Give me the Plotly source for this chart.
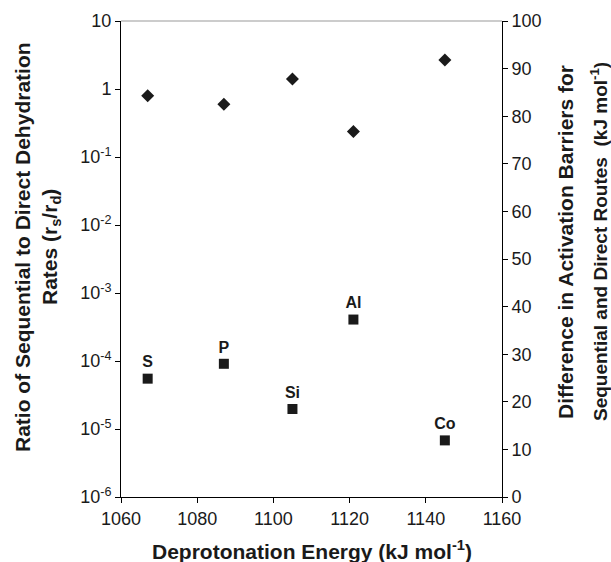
import plotly.graph_objects as go

energy = [1067, 1087, 1105, 1121, 1145]
ratio = [5.5e-5, 9.1e-5, 1.97e-5, 4.07e-4, 6.8e-6]
ratio_labels = ["S", "P", "Si", "Al", "Co"]
barrier_diff = [84.3, 82.5, 87.8, 76.8, 91.8]

left_tickvals = [1e-6, 1e-5, 1e-4, 1e-3, 1e-2, 1e-1, 1, 10]
left_ticktext = ["10<sup>-6</sup>", "10<sup>-5</sup>", "10<sup>-4</sup>", "10<sup>-3</sup>",
                 "10<sup>-2</sup>", "10<sup>-1</sup>", "1", "10"]
right_tickvals = list(range(0, 101, 10))
x_tickvals = list(range(1060, 1161, 20))

FONT = "Liberation Sans, Arial, sans-serif"
INK = "#1a1a1a"

fig = go.Figure()
fig.add_trace(go.Scatter(
    x=energy, y=ratio, mode="markers+text", text=ratio_labels,
    textposition="top center", textfont=dict(family=FONT, size=16, color=INK, weight="bold"),
    marker=dict(symbol="square", size=10, color=INK), yaxis="y", showlegend=False,
    cliponaxis=False))
fig.add_trace(go.Scatter(
    x=energy, y=barrier_diff, mode="markers",
    marker=dict(symbol="diamond", size=10, color=INK), yaxis="y2", showlegend=False,
    cliponaxis=False))

W, H = 611, 562
L, R, T, B = 121, 502, 21, 497

def px(x):
    return (x - L) / (R - L)

def py(y):
    return (B - y) / (B - T)

axis_common = dict(showgrid=False, zeroline=False, showline=True, linecolor="black",
                   linewidth=1, ticks="outside", ticklen=5, tickcolor="black",
                   tickfont=dict(family=FONT, size=18, color=INK))

TF = dict(family=FONT, size=21, color=INK)

fig.update_layout(
    width=W, height=H,
    margin=dict(l=L, r=W - R, t=T, b=H - B),
    paper_bgcolor="white", plot_bgcolor="white",
    font=dict(family=FONT, color=INK),
    xaxis=dict(range=[1060, 1160], tickvals=x_tickvals, **axis_common),
    yaxis=dict(type="log", range=[-6, 1], tickvals=left_tickvals, ticktext=left_ticktext,
               **axis_common),
    yaxis2=dict(range=[0, 100], tickvals=right_tickvals, overlaying="y", side="right",
                **axis_common),
    shapes=[dict(type="line", xref="paper", yref="paper", x0=0, x1=1, y0=1, y1=1,
                 line=dict(color="#999999", width=1))],
    annotations=[
        dict(text="<b>Deprotonation Energy (kJ mol<sup>-1</sup>)</b>", xref="paper", yref="paper",
             x=px(312), y=py(550), showarrow=False, font=TF,
             xanchor="center", yanchor="middle"),
        dict(text="<b>Ratio of Sequential to Direct Dehydration</b>", xref="paper", yref="paper",
             x=px(22), y=py(247), showarrow=False, textangle=-90,
             font=TF, xanchor="center", yanchor="middle"),
        dict(text="<b>Rates (r<sub>s</sub>/r<sub>d</sub>)</b>", xref="paper", yref="paper",
             x=px(51), y=py(247), showarrow=False, textangle=-90,
             font=TF, xanchor="center", yanchor="middle"),
        dict(text="<b>Difference in Activation Barriers for</b>", xref="paper", yref="paper",
             x=px(565), y=py(242), showarrow=False, textangle=-90,
             font=TF, xanchor="center", yanchor="middle"),
        dict(text="<b>Sequential and Direct Routes&nbsp;&nbsp;(kJ mol<sup>-1</sup>)</b>", xref="paper", yref="paper",
             x=px(599), y=py(242), showarrow=False, textangle=-90,
             font=dict(family=FONT, size=19, color=INK), xanchor="center", yanchor="middle"),
    ],
)

fig.write_html("out.html")
